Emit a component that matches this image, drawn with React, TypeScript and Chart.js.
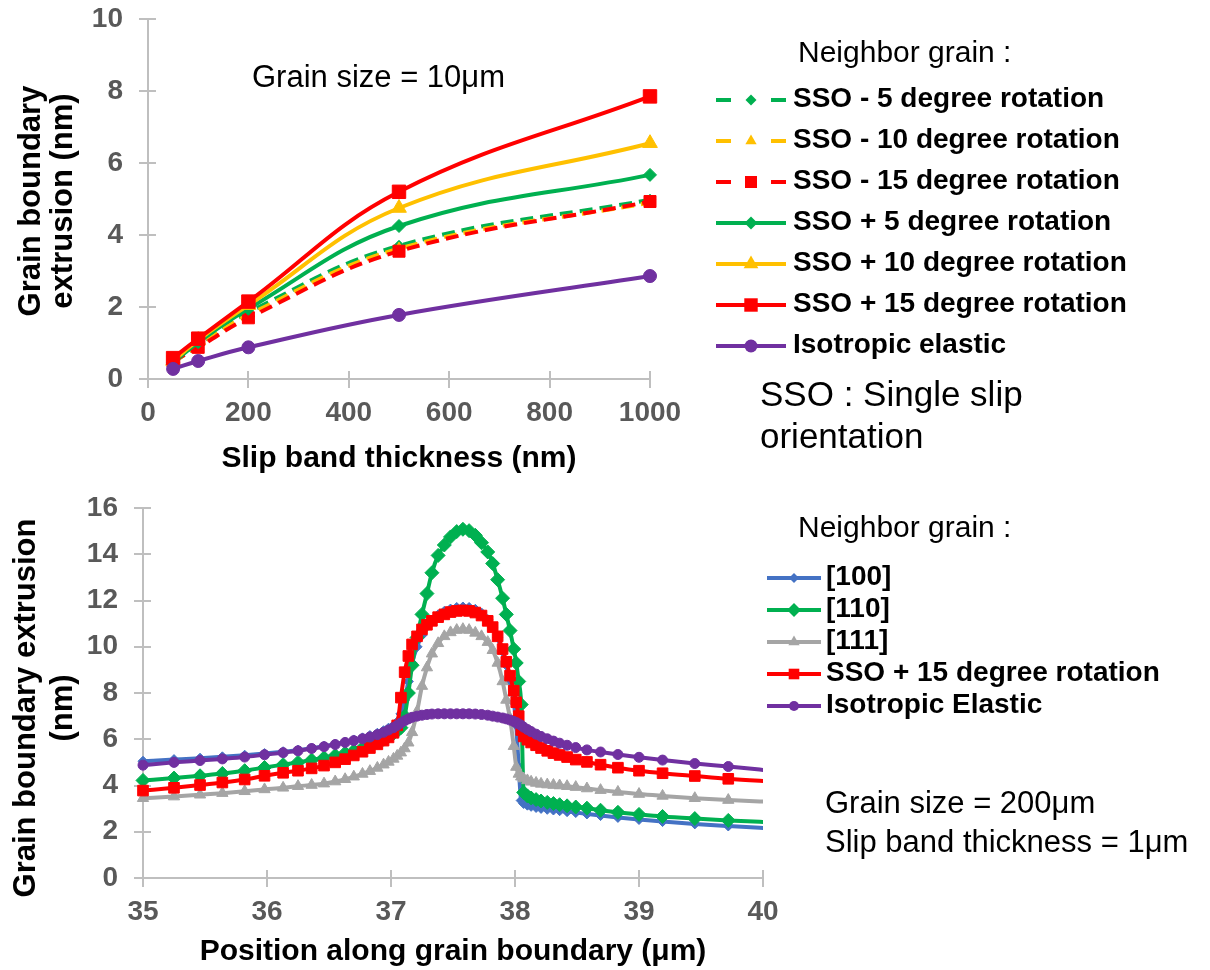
import React, { useEffect, useRef } from 'react';
import { Chart, registerables } from 'chart.js';

Chart.register(...registerables);

const FONT = '"Liberation Sans", Arial, Helvetica, sans-serif';
const AXIS_COLOR = '#BFBFBF';
const TICK_COLOR = '#595959';

// ================= Top chart data =================
const SLIP_BAND_THICKNESS_NM = [50, 100, 200, 500, 1000];
const TOP_SERIES_LABELS = [
  'SSO - 5 degree rotation',
  'SSO - 10 degree rotation',
  'SSO - 15 degree rotation',
  'SSO + 5 degree rotation',
  'SSO + 10 degree rotation',
  'SSO + 15 degree rotation',
  'Isotropic elastic',
];
const SSO_MINUS_5 = [0.45, 0.95, 1.85, 3.7, 4.98];
const SSO_MINUS_10 = [0.47, 0.92, 1.78, 3.62, 4.9];
const SSO_MINUS_15 = [0.5, 0.88, 1.7, 3.55, 4.93];
const SSO_PLUS_5 = [0.45, 1.02, 1.95, 4.25, 5.67];
const SSO_PLUS_10 = [0.5, 1.08, 2.05, 4.75, 6.55];
const SSO_PLUS_15 = [0.58, 1.12, 2.15, 5.2, 7.85];
const ISOTROPIC_TOP = [0.28, 0.5, 0.88, 1.78, 2.86];
const TOP_X_TICKS = [0, 200, 400, 600, 800, 1000];
const TOP_Y_TICKS = [0, 2, 4, 6, 8, 10];

// ================= Bottom chart data =================
const POSITION_UM = [
  35.0, 35.25, 35.46, 35.64, 35.82, 35.98, 36.13, 36.25, 36.36, 36.46,
  36.55, 36.63, 36.7, 36.77, 36.83, 36.89, 36.94, 36.98, 37.02, 37.05,
  37.08, 37.11, 37.14, 37.17, 37.21, 37.25, 37.29, 37.33, 37.38, 37.43,
  37.48, 37.53, 37.58, 37.63, 37.68, 37.73, 37.78, 37.82, 37.86, 37.9,
  37.93, 37.96, 37.99, 38.01, 38.03, 38.05, 38.07, 38.1, 38.13, 38.17,
  38.21, 38.26, 38.31, 38.36, 38.42, 38.49, 38.58, 38.69, 38.83, 39.0,
  39.19, 39.45, 39.72, 40.1,
];
const BOTTOM_SERIES_LABELS = ['[100]', '[110]', '[111]', 'SSO + 15 degree rotation', 'Isotropic Elastic'];
const GRAIN_100 = [
  5.05, 5.12, 5.18, 5.24, 5.31, 5.38, 5.46, 5.53, 5.61, 5.7,
  5.79, 5.88, 5.97, 6.06, 6.16, 6.26, 6.37, 6.48, 6.6, 6.75,
  7.1, 7.7, 8.5, 9.3, 10.0, 10.5, 10.88, 11.15, 11.38, 11.53,
  11.63, 11.7, 11.72, 11.7, 11.62, 11.46, 11.18, 10.85, 10.4, 9.8,
  9.2, 8.5, 7.6, 6.6, 4.8, 3.35, 3.22, 3.15, 3.1, 3.05,
  3.01, 2.97, 2.94, 2.91, 2.87, 2.83, 2.77, 2.7, 2.62, 2.53,
  2.44, 2.34, 2.25, 2.13,
];
const GRAIN_110 = [
  4.22, 4.32, 4.42, 4.52, 4.64, 4.78, 4.9, 5.0, 5.1, 5.2,
  5.3, 5.4, 5.5, 5.62, 5.75, 5.88, 6.0, 6.12, 6.25, 6.35,
  6.5, 7.0, 8.0, 9.2, 10.4, 11.4, 12.3, 13.2, 13.95, 14.4,
  14.75, 14.98, 15.08, 15.02, 14.82, 14.5, 14.1, 13.6, 12.9, 12.1,
  11.4, 10.7, 9.9, 9.3, 8.5, 7.5, 3.7, 3.55, 3.46, 3.39,
  3.33, 3.27, 3.22, 3.17, 3.12, 3.07, 3.02, 2.93, 2.84, 2.75,
  2.66, 2.57, 2.49, 2.4,
];
const GRAIN_111 = [
  3.45, 3.52, 3.6, 3.67, 3.75, 3.83, 3.9, 3.97, 4.02, 4.08,
  4.17, 4.27, 4.38, 4.5, 4.62, 4.76, 4.9, 5.02, 5.15, 5.28,
  5.42, 5.6, 5.85, 6.3, 7.2, 8.3, 9.1, 9.7, 10.15, 10.45,
  10.62, 10.72, 10.76, 10.72, 10.6, 10.45, 10.2, 9.85, 9.3, 8.5,
  7.7, 6.9, 5.7, 4.8, 4.5, 4.38, 4.3, 4.22, 4.16, 4.11,
  4.07, 4.04, 4.02, 4.0, 3.97, 3.93, 3.87, 3.8, 3.72, 3.63,
  3.55, 3.45, 3.37, 3.28,
];
const SSO_PLUS_15_PROFILE = [
  3.78, 3.9, 4.02, 4.13, 4.26, 4.42, 4.55, 4.64, 4.74, 4.86,
  5.0, 5.14, 5.3, 5.46, 5.62, 5.78, 5.94, 6.08, 6.28, 6.6,
  7.8, 8.9, 9.6, 10.1, 10.45, 10.75, 10.95, 11.12, 11.28, 11.4,
  11.5, 11.55, 11.57, 11.55, 11.48, 11.35, 11.12, 10.85, 10.45, 9.9,
  9.35, 8.75, 8.1, 7.6, 7.0, 6.4, 6.12, 5.98, 5.86, 5.74,
  5.62, 5.5, 5.4, 5.32, 5.23, 5.12, 5.02, 4.9, 4.77, 4.64,
  4.53, 4.41, 4.29, 4.16,
];
const ISOTROPIC_PROFILE = [
  4.88, 5.0, 5.08, 5.15, 5.23, 5.33, 5.42, 5.5, 5.6, 5.68,
  5.77, 5.86, 5.94, 6.02, 6.1, 6.2, 6.3, 6.4, 6.5, 6.6,
  6.7, 6.8, 6.88, 6.95, 7.0, 7.04, 7.07, 7.09, 7.1, 7.1,
  7.1, 7.1, 7.1, 7.1, 7.09, 7.07, 7.04, 7.0, 6.96, 6.92,
  6.88, 6.83, 6.77, 6.72, 6.66, 6.6, 6.52, 6.42, 6.33, 6.22,
  6.12, 6.02, 5.92, 5.83, 5.74, 5.64, 5.54, 5.45, 5.34, 5.22,
  5.1, 4.95, 4.82, 4.62,
];
const BOTTOM_X_TICKS = [35, 36, 37, 38, 39, 40];
const BOTTOM_Y_TICKS = [0, 2, 4, 6, 8, 10, 12, 14, 16];

// ================= Styles =================
type SeriesStyle = { color: string; dashed: boolean; point: string; r: number; width: number };
const GREEN = '#00B050';
const YELLOW = '#FFC000';
const RED = '#FF0000';
const PURPLE = '#7030A0';
const BLUE = '#4472C4';
const GREY = '#A5A5A5';

const TOP_STYLES: SeriesStyle[] = [
  { color: GREEN, dashed: true, point: 'rectRot', r: 5.5, width: 4 },
  { color: YELLOW, dashed: true, point: 'triangle', r: 6.5, width: 4 },
  { color: RED, dashed: true, point: 'rect', r: 8.5, width: 4 },
  { color: GREEN, dashed: false, point: 'rectRot', r: 6.5, width: 4 },
  { color: YELLOW, dashed: false, point: 'triangle', r: 8.5, width: 4 },
  { color: RED, dashed: false, point: 'rect', r: 9.5, width: 4 },
  { color: PURPLE, dashed: false, point: 'circle', r: 6.5, width: 4 },
];
const BOTTOM_STYLES: SeriesStyle[] = [
  { color: BLUE, dashed: false, point: 'rectRot', r: 5, width: 4 },
  { color: GREEN, dashed: false, point: 'rectRot', r: 7, width: 4 },
  { color: GREY, dashed: false, point: 'triangle', r: 6.5, width: 4 },
  { color: RED, dashed: false, point: 'rect', r: 7.5, width: 4 },
  { color: PURPLE, dashed: false, point: 'circle', r: 5, width: 4 },
];

// ================= Drawing helpers =================
function drawMarker(ctx: CanvasRenderingContext2D, style: string, x: number, y: number, r: number, color: string) {
  ctx.save();
  ctx.setLineDash([]);
  ctx.fillStyle = color;
  ctx.beginPath();
  if (style === 'circle') {
    ctx.arc(x, y, r, 0, Math.PI * 2);
  } else if (style === 'rect') {
    const s = r * Math.SQRT1_2;
    ctx.rect(x - s, y - s, 2 * s, 2 * s);
  } else if (style === 'rectRot') {
    ctx.moveTo(x, y - r);
    ctx.lineTo(x + r, y);
    ctx.lineTo(x, y + r);
    ctx.lineTo(x - r, y);
    ctx.closePath();
  } else if (style === 'triangle') {
    ctx.moveTo(x, y - r);
    ctx.lineTo(x + 0.866 * r, y + 0.5 * r);
    ctx.lineTo(x - 0.866 * r, y + 0.5 * r);
    ctx.closePath();
  }
  ctx.fill();
  ctx.restore();
}

type TextItem = { text: string; x: number; y: number; size: number; bold?: boolean; align?: CanvasTextAlign; baseline?: CanvasTextBaseline };
type RotItem = { text: string; baselineX: number; centerY: number; size: number };
type LegendSpec = { labels: string[]; styles: SeriesStyle[]; y0: number; dy: number; x0: number; x1: number; mx: number; tx: number; size: number };
type OverlaySpec = { texts: TextItem[]; rotated: RotItem[]; legend: LegendSpec; innerTick: number };

function makeOverlay(spec: OverlaySpec) {
  return {
    id: 'overlay',
    beforeDatasetsDraw(chart: any) {
      const ctx: CanvasRenderingContext2D = chart.ctx;
      const { chartArea, scales } = chart;
      ctx.save();
      ctx.strokeStyle = AXIS_COLOR;
      ctx.lineWidth = 2;
      ctx.beginPath();
      for (const t of scales.x.ticks) {
        const px = Math.round(scales.x.getPixelForValue(t.value));
        ctx.moveTo(px, chartArea.bottom);
        ctx.lineTo(px, chartArea.bottom - spec.innerTick);
      }
      for (const t of scales.y.ticks) {
        const py = Math.round(scales.y.getPixelForValue(t.value));
        ctx.moveTo(chartArea.left, py);
        ctx.lineTo(chartArea.left + spec.innerTick, py);
      }
      ctx.stroke();
      ctx.restore();
    },
    afterDraw(chart: any) {
      const ctx: CanvasRenderingContext2D = chart.ctx;
      ctx.save();
      ctx.fillStyle = '#000000';
      for (const t of spec.texts) {
        ctx.font = `${t.bold ? 'bold ' : ''}${t.size}px ${FONT}`;
        ctx.textAlign = t.align || 'left';
        ctx.textBaseline = t.baseline || 'middle';
        ctx.fillText(t.text, t.x, t.y);
      }
      for (const r of spec.rotated) {
        ctx.save();
        ctx.font = `bold ${r.size}px ${FONT}`;
        ctx.translate(r.baselineX, r.centerY);
        ctx.rotate(-Math.PI / 2);
        ctx.textAlign = 'center';
        ctx.textBaseline = 'alphabetic';
        ctx.fillText(r.text, 0, 0);
        ctx.restore();
      }
      const L = spec.legend;
      L.labels.forEach((label, i) => {
        const st = L.styles[i];
        const y = L.y0 + i * L.dy;
        ctx.save();
        ctx.strokeStyle = st.color;
        ctx.lineWidth = st.width;
        ctx.beginPath();
        if (st.dashed) {
          ctx.moveTo(L.x0, y);
          ctx.lineTo(L.x0 + 15, y);
          ctx.moveTo(L.x1 - 15, y);
          ctx.lineTo(L.x1, y);
        } else {
          ctx.moveTo(L.x0, y);
          ctx.lineTo(L.x1, y);
        }
        ctx.stroke();
        ctx.restore();
        drawMarker(ctx, st.point, L.mx, y, st.r, st.color);
        ctx.fillStyle = '#000000';
        ctx.font = `bold ${L.size}px ${FONT}`;
        ctx.textAlign = 'left';
        ctx.textBaseline = 'middle';
        ctx.fillText(label, L.tx, y - 1);
      });
      ctx.restore();
    },
  };
}

function makeDatasets(xs: number[], series: number[][], labels: string[], styles: SeriesStyle[], extra: any) {
  const n = series.length;
  return series.map((ys, i) => {
    const st = styles[i];
    return {
      label: labels[i],
      data: xs.map((x, j) => ({ x, y: ys[j] })),
      borderColor: st.color,
      backgroundColor: st.color,
      borderWidth: st.width,
      borderDash: st.dashed ? [13, 7] : [],
      pointStyle: st.point,
      pointRadius: st.r,
      pointHoverRadius: st.r,
      pointBackgroundColor: st.color,
      pointBorderColor: st.color,
      pointBorderWidth: 1,
      order: n - i,
      ...extra,
    };
  });
}

function axis(min: number, max: number, ticks: number[], size: { w?: number; h?: number }, padding: number) {
  return {
    type: 'linear',
    min,
    max,
    afterBuildTicks: (s: any) => {
      s.ticks = ticks.map((v) => ({ value: v }));
    },
    afterFit: (s: any) => {
      if (size.w !== undefined) s.width = size.w;
      if (size.h !== undefined) s.height = size.h;
      s.paddingTop = 0;
      s.paddingBottom = 0;
      s.paddingLeft = 0;
      s.paddingRight = 0;
    },
    grid: { display: true, drawOnChartArea: false, drawTicks: true, tickLength: 9, color: AXIS_COLOR, lineWidth: 2 },
    border: { display: true, color: AXIS_COLOR, width: 2 },
    ticks: {
      color: TICK_COLOR,
      font: { family: FONT, size: 28, weight: 'bold' },
      padding,
      maxRotation: 0,
      autoSkip: false,
      callback: (v: any) => String(v),
    },
    title: { display: false },
  };
}

function topConfig(): any {
  const series = [SSO_MINUS_5, SSO_MINUS_10, SSO_MINUS_15, SSO_PLUS_5, SSO_PLUS_10, SSO_PLUS_15, ISOTROPIC_TOP];
  const overlay = makeOverlay({
    innerTick: 8,
    texts: [
      { text: 'Grain size = 10\u03bcm', x: 252, y: 87, size: 31, baseline: 'alphabetic' },
      { text: 'Slip band thickness (nm)', x: 399, y: 467, size: 30, bold: true, align: 'center', baseline: 'alphabetic' },
      { text: 'Neighbor grain :', x: 798, y: 62, size: 30, baseline: 'alphabetic' },
      { text: 'SSO : Single slip', x: 760, y: 406, size: 35, baseline: 'alphabetic' },
      { text: 'orientation', x: 760, y: 448, size: 35, baseline: 'alphabetic' },
    ],
    rotated: [
      { text: 'Grain boundary', baselineX: 40, centerY: 201, size: 31 },
      { text: 'extrusion (nm)', baselineX: 72, centerY: 201, size: 31 },
    ],
    legend: { labels: TOP_SERIES_LABELS, styles: TOP_STYLES, y0: 100, dy: 41, x0: 716, x1: 786, mx: 751, tx: 793, size: 28 },
  });
  return {
    type: 'line',
    data: {
      datasets: makeDatasets(SLIP_BAND_THICKNESS_NM, series, TOP_SERIES_LABELS, TOP_STYLES, { tension: 0.4, clip: false }),
    },
    options: {
      responsive: false,
      animation: false,
      events: [],
      layout: { autoPadding: false, padding: { left: 0, top: 19, right: 560, bottom: 0 } },
      plugins: { legend: { display: false }, tooltip: { enabled: false }, title: { display: false } },
      scales: {
        x: axis(0, 1000, TOP_X_TICKS, { h: 101 }, 8),
        y: axis(0, 10, TOP_Y_TICKS, { w: 148 }, 16),
      },
    },
    plugins: [overlay],
  };
}

function bottomConfig(): any {
  const series = [GRAIN_100, GRAIN_110, GRAIN_111, SSO_PLUS_15_PROFILE, ISOTROPIC_PROFILE];
  const overlay = makeOverlay({
    innerTick: 8,
    texts: [
      { text: 'Position along grain boundary (\u03bcm)', x: 453, y: 480, size: 30, bold: true, align: 'center', baseline: 'alphabetic' },
      { text: 'Neighbor grain :', x: 798, y: 57, size: 30, baseline: 'alphabetic' },
      { text: 'Grain size = 200\u03bcm', x: 825, y: 333, size: 31, baseline: 'alphabetic' },
      { text: 'Slip band thickness = 1\u03bcm', x: 825, y: 372, size: 31, baseline: 'alphabetic' },
    ],
    rotated: [
      { text: 'Grain boundary extrusion', baselineX: 35, centerY: 228, size: 31 },
      { text: '(nm)', baselineX: 72, centerY: 228, size: 31 },
    ],
    legend: { labels: BOTTOM_SERIES_LABELS, styles: BOTTOM_STYLES, y0: 98, dy: 32, x0: 767, x1: 821, mx: 794, tx: 826, size: 28 },
  });
  return {
    type: 'line',
    data: {
      datasets: makeDatasets(POSITION_UM, series, BOTTOM_SERIES_LABELS, BOTTOM_STYLES, {
        cubicInterpolationMode: 'monotone',
        clip: { left: 10, top: 10, right: 0, bottom: 0 },
      }),
    },
    options: {
      responsive: false,
      animation: false,
      events: [],
      layout: { autoPadding: false, padding: { left: 0, top: 28, right: 447, bottom: 0 } },
      plugins: { legend: { display: false }, tooltip: { enabled: false }, title: { display: false } },
      scales: {
        x: axis(35, 40, BOTTOM_X_TICKS, { h: 92 }, 8),
        y: axis(0, 16, BOTTOM_Y_TICKS, { w: 143 }, 16),
      },
    },
    plugins: [overlay],
  };
}

function ChartCanvas({ width, height, top, makeConfig }: { width: number; height: number; top: number; makeConfig: () => any }) {
  const ref = useRef<HTMLCanvasElement | null>(null);
  useEffect(() => {
    if (!ref.current) return;
    const chart = new Chart(ref.current, makeConfig());
    return () => chart.destroy();
  }, []);
  return (
    <canvas
      ref={ref}
      width={width}
      height={height}
      style={{ position: 'absolute', left: 0, top, width, height, display: 'block' }}
    />
  );
}

export default function App() {
  return (
    <div style={{ position: 'absolute', left: 0, top: 0, width: 1210, height: 970, background: '#ffffff', overflow: 'hidden' }}>
      <ChartCanvas width={1210} height={480} top={0} makeConfig={topConfig} />
      <ChartCanvas width={1210} height={490} top={480} makeConfig={bottomConfig} />
    </div>
  );
}
